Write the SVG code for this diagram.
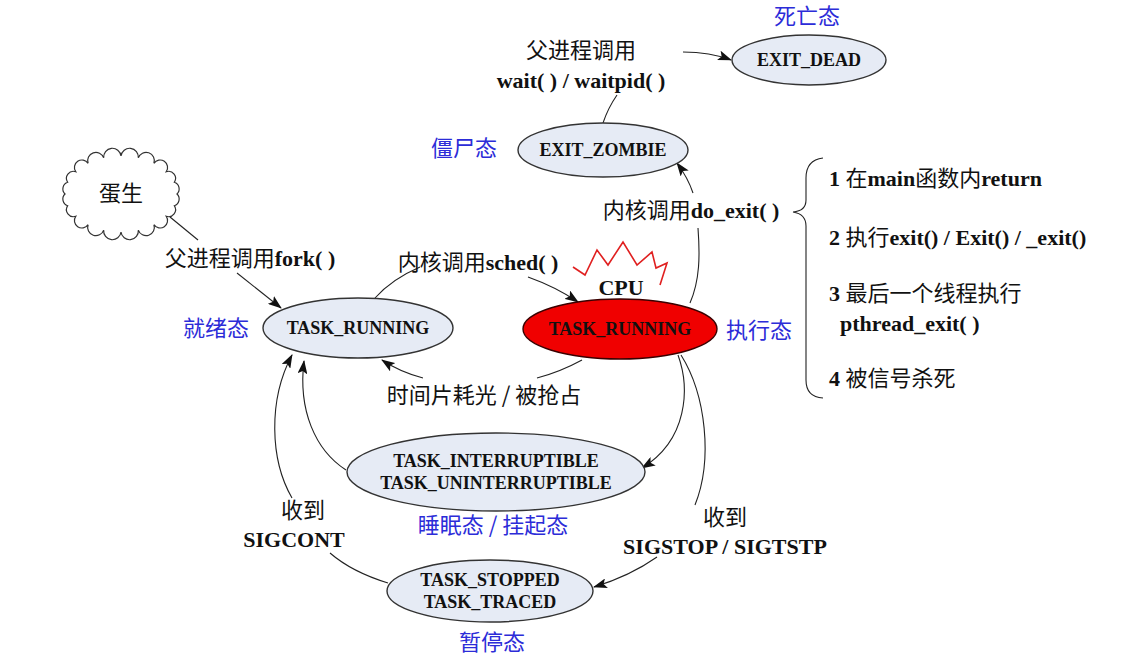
<svg xmlns="http://www.w3.org/2000/svg" width="1124" height="669" viewBox="0 0 1124 669">
<style>
.node{fill:#e6ebf5;stroke:#333;stroke-width:1.4}
.red{fill:#f00000;stroke:#3a0000;stroke-width:1.4}
.nt{font-family:"Liberation Serif","Times New Roman",serif;font-weight:bold;font-size:18px;fill:#111;text-anchor:middle}
.blue{font-family:"Noto Sans CJK SC","Noto Sans",sans-serif;font-size:22px;fill:#2c2cd8;text-anchor:middle}
.lbl{font-family:"Noto Sans CJK SC","Noto Sans",sans-serif;font-size:22px;fill:#111}
.b{font-family:"Liberation Serif","Times New Roman",serif;font-weight:bold}
.mid{text-anchor:middle}
.line{fill:none;stroke:#222;stroke-width:1.1}
</style>
<defs>
<marker id="arr" viewBox="0 0 14 10" refX="13" refY="5" markerWidth="14" markerHeight="10" markerUnits="userSpaceOnUse" orient="auto">
<path d="M0,0 L14,5 L0,10 L3,5 Z" fill="#111"/>
</marker>
</defs>
<rect width="1124" height="669" fill="#fff"/>

<g id="connectors">
<path class="line" d="M170,217 L198,240"/>
<path class="line" d="M237,273 L281,308" marker-end="url(#arr)"/>
<path class="line" d="M375,298 Q392,279 420,267"/>
<path class="line" d="M528,277 Q556,287 578,302" marker-end="url(#arr)"/>
<path class="line" d="M582,360 Q560,372 537,378"/>
<path class="line" d="M423,378 Q400,372 382,360" marker-end="url(#arr)"/>
<path class="line" d="M678,355 C690,388 688,440 642,468" marker-end="url(#arr)"/>
<path class="line" d="M681,355 C706,395 713,460 695,505"/>
<path class="line" d="M657,557 Q630,576 594,587" marker-end="url(#arr)"/>
<path class="line" d="M346,470 C315,450 298,410 304,361" marker-end="url(#arr)"/>
<path class="line" d="M388,583 Q352,572 330,553"/>
<path class="line" d="M292,498 C270,460 268,400 292,355" marker-end="url(#arr)"/>
<path class="line" d="M690,303 C700,280 700,255 698,228"/>
<path class="line" d="M693,193 Q688,178 677,163" marker-end="url(#arr)"/>
<path class="line" d="M603,123 Q608,108 617,95"/>
<path class="line" d="M683,52 Q710,52 731,60" marker-end="url(#arr)"/>
</g>

<g id="egg">
<path d="M177,194 A7 7 0 0 1 174.3,205.7 A7 7 0 0 1 166.3,216.3 A7 7 0 0 1 153.9,224.7 A7 7 0 0 1 138.3,230.1 A7 7 0 0 1 121,232 A7 7 0 0 1 103.7,230.1 A7 7 0 0 1 88.1,224.7 A7 7 0 0 1 75.7,216.3 A7 7 0 0 1 67.7,205.7 A7 7 0 0 1 65,194 A7 7 0 0 1 67.7,182.3 A7 7 0 0 1 75.7,171.7 A7 7 0 0 1 88.1,163.3 A7 7 0 0 1 103.7,157.9 A7 7 0 0 1 121,156 A7 7 0 0 1 138.3,157.9 A7 7 0 0 1 153.9,163.3 A7 7 0 0 1 166.3,171.7 A7 7 0 0 1 174.3,182.3 A7 7 0 0 1 177,194 Z" fill="#fff" stroke="#333" stroke-width="1.2"/>
<text class="lbl mid" x="121" y="201">蛋生</text>
</g>

<g id="exit_dead">
<ellipse class="node" cx="809" cy="60" rx="77" ry="25"/>
<text class="nt" x="809" y="66">EXIT_DEAD</text>
<text class="blue" x="807" y="24">死亡态</text>
</g>

<g id="exit_zombie">
<ellipse class="node" cx="603" cy="150" rx="85" ry="27"/>
<text class="nt" x="603" y="156">EXIT_ZOMBIE</text>
<text class="blue" x="464" y="156">僵尸态</text>
</g>

<g id="ready">
<ellipse class="node" cx="358" cy="328" rx="95" ry="30"/>
<text class="nt" x="358" y="334">TASK_RUNNING</text>
<text class="blue" x="216" y="336">就绪态</text>
</g>

<g id="running">
<path d="M573,267 L585,275 L597,250 L608,265 L623,242 L637,265 L652,252 L656,268 L667,263 L660,285" fill="none" stroke="#e02020" stroke-width="1.6"/>
<text class="b" x="621" y="295" font-size="22" text-anchor="middle" fill="#111">CPU</text>
<ellipse class="red" cx="620" cy="329" rx="97" ry="30"/>
<text class="nt" x="620" y="335" fill="#3a0000">TASK_RUNNING</text>
<text class="blue" x="759" y="338">执行态</text>
</g>

<g id="sleep">
<ellipse class="node" cx="496" cy="472" rx="149" ry="39"/>
<text class="nt" x="496" y="467">TASK_INTERRUPTIBLE</text>
<text class="nt" x="496" y="489">TASK_UNINTERRUPTIBLE</text>
<text class="blue" x="493" y="533">睡眠态 / 挂起态</text>
</g>

<g id="stopped">
<ellipse class="node" cx="490" cy="591" rx="103" ry="31"/>
<text class="nt" x="490" y="586">TASK_STOPPED</text>
<text class="nt" x="490" y="608">TASK_TRACED</text>
<text class="blue" x="492" y="650">暂停态</text>
</g>

<g id="labels">
<text class="lbl mid" x="581" y="58">父进程调用</text>
<text class="lbl mid" x="581" y="88"><tspan class="b">wait( ) / waitpid( )</tspan></text>
<text class="lbl mid" x="691" y="218">内核调用<tspan class="b">do_exit( )</tspan></text>
<text class="lbl mid" x="250" y="266">父进程调用<tspan class="b">fork( )</tspan></text>
<text class="lbl mid" x="478" y="270">内核调用<tspan class="b">sched( )</tspan></text>
<text class="lbl mid" x="484" y="403">时间片耗光 / 被抢占</text>
<text class="lbl mid" x="303" y="518">收到</text>
<text class="lbl mid" x="294" y="547"><tspan class="b">SIGCONT</tspan></text>
<text class="lbl mid" x="725" y="525">收到</text>
<text class="lbl mid" x="725" y="554"><tspan class="b">SIGSTOP / SIGTSTP</tspan></text>
</g>

<g id="exit_reasons">
<path class="line" d="M823,158 Q806,160 806,178 L806,200 Q806,211 793,212 Q806,214 806,226 L806,380 Q806,397 823,398"/>
<text class="lbl" x="829" y="186"><tspan class="b">1 </tspan>在<tspan class="b">main</tspan>函数内<tspan class="b">return</tspan></text>
<text class="lbl" x="829" y="245"><tspan class="b">2 </tspan>执行<tspan class="b">exit() / Exit() / _exit()</tspan></text>
<text class="lbl" x="829" y="301"><tspan class="b">3 </tspan>最后一个线程执行</text>
<text class="lbl" x="840" y="331"><tspan class="b">pthread_exit( )</tspan></text>
<text class="lbl" x="829" y="386"><tspan class="b">4 </tspan>被信号杀死</text>
</g>
</svg>
